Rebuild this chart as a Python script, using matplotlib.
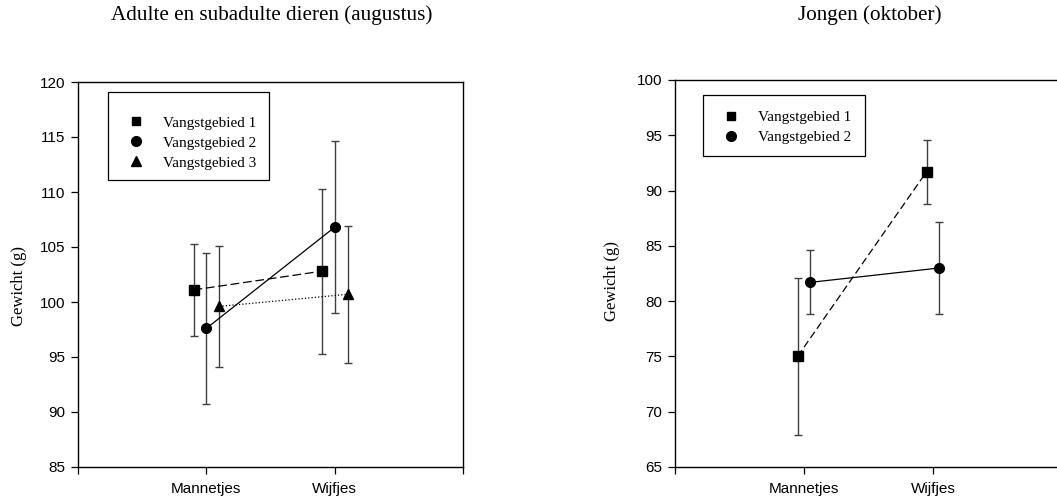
import matplotlib
matplotlib.use("Agg")
import matplotlib.pyplot as plt
from matplotlib.lines import Line2D
from matplotlib.patches import Rectangle

# categorieen op de x-as
groups = ["Mannetjes", "Wijfjes"]

# Adulte en subadulte dieren (augustus)
adult_v1 = [101.1, 102.8]
adult_v1_err = [4.2, 7.5]
adult_v2 = [97.6, 106.8]
adult_v2_err = [6.9, 7.8]
adult_v3 = [99.6, 100.7]
adult_v3_err = [5.5, 6.2]

# Jongen (oktober)
young_v1 = [75.0, 91.7]
young_v1_err = [7.1, 2.9]
young_v2 = [81.7, 83.0]
young_v2_err = [2.9, 4.2]

SERIF = "Liberation Serif"
SANS = "Liberation Sans"
ERRCOL = "#404040"
W, H = 1057, 497


def draw_series(ax, xs, ys, errs, marker, ls, ms, dashes=None):
    ax.errorbar(xs, ys, yerr=errs, fmt="none", ecolor=ERRCOL, elinewidth=1.0,
                capsize=2.6, capthick=1.0, zorder=2)
    line, = ax.plot(xs, ys, color="black", linestyle=ls, linewidth=0.9,
                    marker=marker, markersize=ms, markerfacecolor="black",
                    markeredgecolor="black", zorder=3)
    if dashes is not None:
        line.set_dashes(dashes)


def style_axes(ax, ylim, yticks):
    ax.set_xlim(0, 3)
    ax.set_ylim(*ylim)
    ax.set_xticks([0, 1, 2, 3])
    ax.set_xticklabels(["", groups[0], groups[1], ""], fontfamily=SANS, fontsize=11)
    ax.set_yticks(yticks)
    ax.set_yticklabels([str(t) for t in yticks], fontfamily=SANS, fontsize=11)
    ax.tick_params(direction="out", length=5, width=0.9, color="black", pad=4)
    ax.tick_params(axis="x", pad=6)
    for sp in ax.spines.values():
        sp.set_linewidth(1.0)
        sp.set_color("black")


def add_legend(fig, ax, labels, markers, sizes, box, first_row):
    # box = (x0, y0, x1, y1) in pixels vanaf linksboven
    x0, y0, x1, y1 = box
    fig.add_artist(Rectangle((x0 / W, 1 - y1 / H), (x1 - x0) / W, (y1 - y0) / H,
                             transform=fig.transFigure, fill=False,
                             edgecolor="black", linewidth=0.9, zorder=5))
    handles = [Line2D([], [], linestyle="none", marker=m, markersize=s,
                      color="black") for m, s in zip(markers, sizes)]
    mx, my = first_row
    leg = ax.legend(handles, labels, loc="upper left",
                    bbox_to_anchor=((mx - 7.6) / W, 1 - (my - 7) / H),
                    bbox_transform=fig.transFigure,
                    prop={"family": SERIF, "size": 11}, frameon=False,
                    borderaxespad=0, borderpad=0, handlelength=1.0,
                    handletextpad=1.25, labelspacing=0.41)
    return leg


fig = plt.figure(figsize=(W / 100, H / 100), dpi=100)

# linker paneel
ax1 = fig.add_axes([78 / W, 30 / H, 385 / W, 385 / H])
draw_series(ax1, [0.9, 1.9], adult_v1, adult_v1_err, "s", "--", 6.5, dashes=(7, 3))
draw_series(ax1, [1.0, 2.0], adult_v2, adult_v2_err, "o", "-", 7)
draw_series(ax1, [1.1, 2.1], adult_v3, adult_v3_err, "^", ":", 7)
style_axes(ax1, (85, 120), list(range(85, 121, 5)))
add_legend(fig, ax1, ["Vangstgebied 1", "Vangstgebied 2", "Vangstgebied 3"],
           ["s", "o", "^"], [6, 7, 7], (108, 92, 269, 180), (136, 123))
ax1.set_ylabel("Gewicht (g)", fontfamily=SERIF, fontsize=12)
ax1.yaxis.set_label_coords(-51 / 385, 0.47)

# rechter paneel
ax2 = fig.add_axes([675 / W, 30 / H, 387 / W, 387 / H])
draw_series(ax2, [0.95, 1.95], young_v1, young_v1_err, "s", "--", 6.5, dashes=(6, 3))
draw_series(ax2, [1.05, 2.05], young_v2, young_v2_err, "o", "-", 7)
style_axes(ax2, (65, 100), list(range(65, 101, 5)))
add_legend(fig, ax2, ["Vangstgebied 1", "Vangstgebied 2"],
           ["s", "o"], [6, 7], (703, 95, 865, 156), (731, 117.5))
ax2.set_ylabel("Gewicht (g)", fontfamily=SERIF, fontsize=12)
ax2.yaxis.set_label_coords(-55 / 387, 0.48)

fig.text(272 / W, 1 - 15 / H, "Adulte en subadulte dieren (augustus)",
         ha="center", va="center", fontfamily=SERIF, fontsize=15.2)
fig.text(870 / W, 1 - 15 / H, "Jongen (oktober)",
         ha="center", va="center", fontfamily=SERIF, fontsize=15.2)

fig.savefig("out.png", dpi=100)
